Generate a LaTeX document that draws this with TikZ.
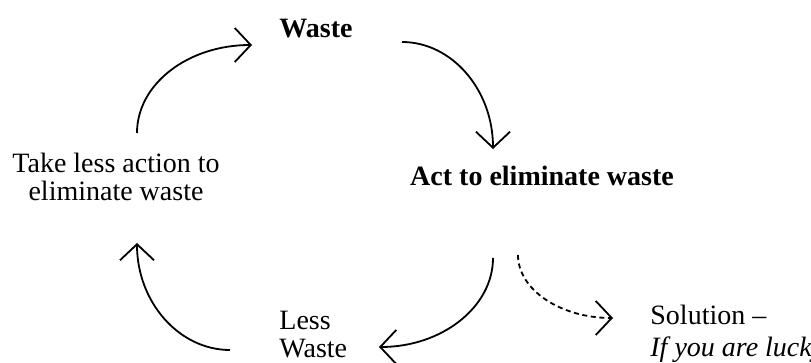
\documentclass[tikz,border=0pt]{standalone}
\usepackage{fontspec}
\setmainfont{Liberation Serif}
\usetikzlibrary{arrows.meta}
\tikzset{flow/.style={-{Straight Barb[length=8pt,width=17pt]}, line width=0.9pt},
%the way out of the loop is only dashed
maybe/.style={flow, dash pattern=on 2.5pt off 1.8pt},
txt/.style={inner sep=0pt}}

\begin{document}
\begin{tikzpicture}[x=0.5pt, y=-0.5pt, font=\fontsize{14}{14}\selectfont]

\useasboundingbox (0,0) rectangle (811,363);

\node[txt, anchor=base] (waste) at (316,38) {\textbf{Waste}};
\node[txt, anchor=base] (act) at (542,186) {\textbf{Act to eliminate waste}};
\node[txt, anchor=base west, align=left] (lesswaste) at (279,358) {Less\\Waste};
\node[txt, anchor=base, align=center] (takeless) at (116,201) {Take less action to\\eliminate waste};
\node[txt, anchor=base west, align=left] (solution) at (650,357) {Solution --\\[2pt]\textit{If you are lucky}};

\coordinate (1) at (137,133);
\coordinate (2) at (252,45);
\coordinate (3) at (402,42);
\coordinate (4) at (493,149);
\coordinate (5) at (493,258);
\coordinate (6) at (379,347);
\coordinate (7) at (230,350);
\coordinate (8) at (137,243);
\coordinate (9) at (518,255);
\coordinate (10) at (613,318);

\draw[flow] (1) .. controls +(0,-49) and +(-64,0) .. (2);
\draw[flow] (3) .. controls +(50,0) and +(0,-59) .. (4);
\draw[flow] (5) .. controls +(0,49) and +(63,0) .. (6);
\draw[flow] (7) .. controls +(-51,0) and +(0,59) .. (8);
\draw[maybe] (9) .. controls +(0,35) and +(-52,0) .. (10);

\end{tikzpicture}
\end{document}
